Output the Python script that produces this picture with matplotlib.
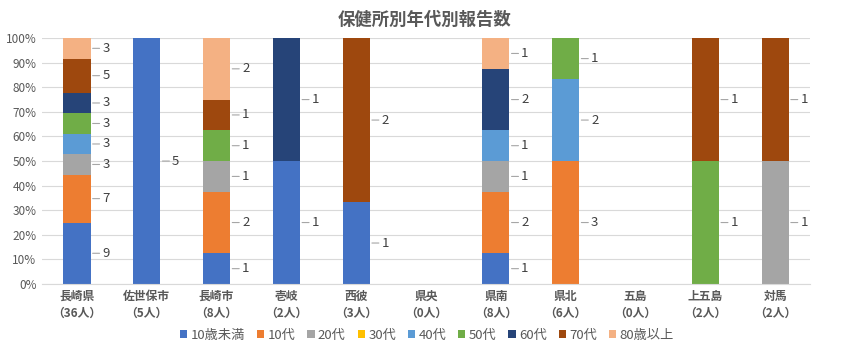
import matplotlib
matplotlib.use("Agg")
import matplotlib.pyplot as plt
from matplotlib.patches import Patch
import numpy as np

plt.rcParams['font.family'] = ['Noto Sans CJK JP', 'DejaVu Sans']

categories = ['長崎県\n（36人）', '佐世保市\n（5人）', '長崎市\n（8人）', '壱岐\n（2人）', '西彼\n（3人）',
              '県央\n（0人）', '県南\n（8人）', '県北\n（6人）', '五島\n（0人）', '上五島\n（2人）', '対馬\n（2人）']
series_names = ['10歳未満', '10代', '20代', '30代', '40代', '50代', '60代', '70代', '80歳以上']
colors = ['#4472C4', '#ED7D31', '#A5A5A5', '#FFC000', '#5B9BD5', '#70AD47', '#264478', '#9E480E', '#F4B183']

s_under10 = [9, 5, 1, 1, 1, 0, 1, 0, 0, 0, 0]
s_10s     = [7, 0, 2, 0, 0, 0, 2, 3, 0, 0, 0]
s_20s     = [3, 0, 1, 0, 0, 0, 1, 0, 0, 0, 1]
s_30s     = [0, 0, 0, 0, 0, 0, 0, 0, 0, 0, 0]
s_40s     = [3, 0, 0, 0, 0, 0, 1, 2, 0, 0, 0]
s_50s     = [3, 0, 1, 0, 0, 0, 0, 1, 0, 1, 0]
s_60s     = [3, 0, 0, 1, 0, 0, 2, 0, 0, 0, 0]
s_70s     = [5, 0, 1, 0, 2, 0, 0, 0, 0, 1, 1]
s_80plus  = [3, 0, 2, 0, 0, 0, 1, 0, 0, 0, 0]

data = np.array([s_under10, s_10s, s_20s, s_30s, s_40s, s_50s, s_60s, s_70s, s_80plus], dtype=float)
totals = data.sum(axis=0)
with np.errstate(invalid='ignore', divide='ignore'):
    pct = np.where(totals > 0, data / totals * 100, 0)

fig = plt.figure(figsize=(8.49, 3.56), dpi=100)
ax = fig.add_axes([0.0495, 0.2022, 0.9046, 0.6908])

x = np.arange(len(categories))
w = 0.39
bottom = np.zeros(len(categories))
for k in range(len(series_names)):
    ax.bar(x, pct[k], w, bottom=bottom, color=colors[k], zorder=2)
    for i in range(len(categories)):
        if data[k, i] > 0:
            mid = bottom[i] + pct[k, i] / 2
            ax.annotate(f"{int(data[k, i])}", xy=(x[i] + w / 2, mid), xytext=(8.5, 0),
                        textcoords='offset points', ha='left', va='center',
                        fontsize=9.5, color='#404040',
                        arrowprops=dict(arrowstyle='-', color='#A6A6A6', lw=0.8,
                                        shrinkA=0, shrinkB=1.5))
    bottom += pct[k]

ax.set_xlim(-0.5, len(categories) - 0.5)
ax.set_ylim(0, 100)
ax.set_yticks(np.arange(0, 101, 10))
ax.set_yticklabels([f"{v}%" for v in range(0, 101, 10)], fontsize=8.5, color='#595959')
ax.set_xticks(x)
ax.set_xticklabels(categories, fontsize=8.5, color='#595959', fontweight='bold', linespacing=1.4)
ax.yaxis.grid(True, color='#D9D9D9', lw=0.8, zorder=0)
ax.set_axisbelow(True)
for s in ['top', 'right', 'left']:
    ax.spines[s].set_visible(False)
ax.spines['bottom'].set_color('#D9D9D9')
ax.tick_params(axis='both', length=0, pad=4)

fig.text(0.5, 0.944, '保健所別年代別報告数', ha='center', va='center', fontsize=12.5,
         fontweight='bold', color='#595959')

handles = [Patch(facecolor=c, edgecolor='none') for c in colors]
leg = fig.legend(handles, series_names, loc='center', bbox_to_anchor=(0.503, 0.058), ncol=9,
                 frameon=False, fontsize=9.5, handlelength=0.55, handleheight=0.55,
                 handletextpad=0.25, columnspacing=0.9)
for t in leg.get_texts():
    t.set_color('#595959')

fig.savefig('out.png', dpi=100)
